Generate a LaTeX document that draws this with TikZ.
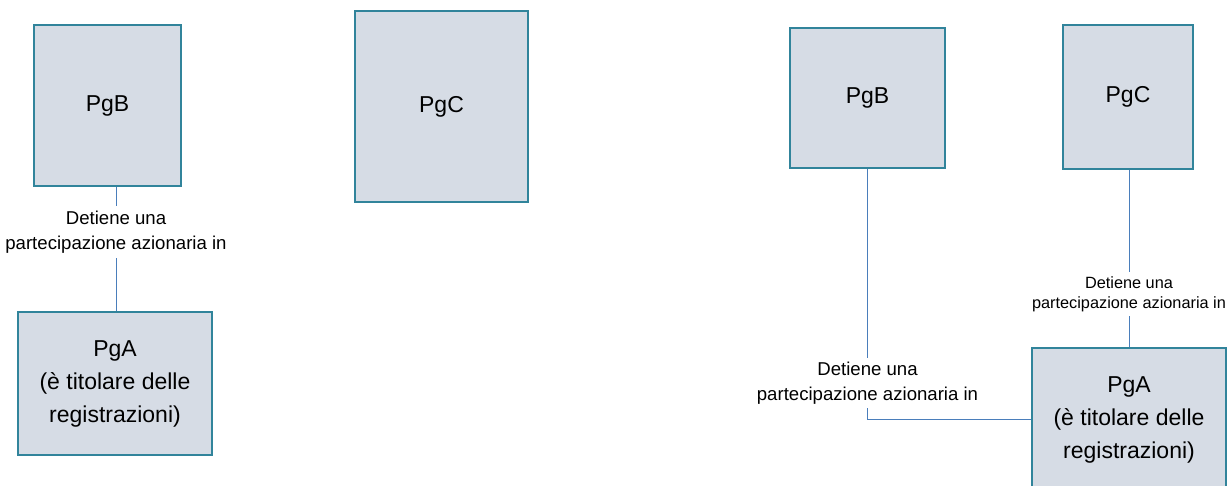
\documentclass[tikz,border=0pt]{standalone}
\usepackage{fontspec}
\setmainfont{Liberation Sans}
\usetikzlibrary{positioning,calc}
\definecolor{riempi}{HTML}{D6DCE5}
\definecolor{bordo}{HTML}{31849B}
\definecolor{linea}{HTML}{4A7EBB}
\begin{document}
\begin{tikzpicture}[x=1pt, y=-1pt]
\tikzset{
    %Define style for boxes
    soggetto/.style={
           rectangle,
           draw=bordo, fill=riempi,
           line width=1.3pt,
           inner sep=0pt,
           align=center,
           font=\fontsize{23}{33}\selectfont},
    % Define line style
    legame/.style={
           draw=linea,
           line width=1pt},
    % Define style for the labels on the lines
    etichetta/.style={
           inner sep=0pt,
           align=center,
           font=\fontsize{18.6}{25}\selectfont}
}
\useasboundingbox (0,0) rectangle (1228,486);
 %left diagram
 \node[soggetto, minimum width=147pt, minimum height=161pt] (pgbL) at (107.5,105.5) {PgB};
 \node[soggetto, minimum width=173pt, minimum height=191pt] (pgcL) at (441.5,106.5) {PgC};
 \node[soggetto, minimum width=194pt, minimum height=143pt] (pgaL) at (115,383.5)
   {PgA\\(è titolare delle\\registrazioni)};
 \node[etichetta, minimum height=52pt] (detL) at (116,232)
   {Detiene una\\partecipazione azionaria in};
 \draw[legame] (detL.north |- pgbL.south) -- (detL.north);
 \draw[legame] (detL.south) -- (detL.south |- pgaL.north);
 %right diagram
 \node[soggetto, minimum width=155pt, minimum height=140pt] (pgbR) at (867.5,98) {PgB};
 \node[soggetto, minimum width=130pt, minimum height=144pt] (pgcR) at (1128,97) {PgC};
 \node[soggetto, minimum width=194pt, minimum height=143pt] (pgaR) at (1129,419.5)
   {PgA\\(è titolare delle\\registrazioni)};
 \node[etichetta, minimum height=50pt] (detBR) at (867.5,383)
   {Detiene una\\partecipazione azionaria in};
 \node[etichetta, minimum height=44pt, font=\fontsize{16.3}{20}\selectfont] (detCR) at (1129,294)
   {Detiene una\\partecipazione azionaria in};
 \draw[legame] (pgbR.south) -- (detBR.north);
 \draw[legame] (detBR.south) |- (pgaR.west);
 \draw[legame] (detCR.north |- pgcR.south) -- (detCR.north);
 \draw[legame] (detCR.south) -- (detCR.south |- pgaR.north);
\end{tikzpicture}
\end{document}
